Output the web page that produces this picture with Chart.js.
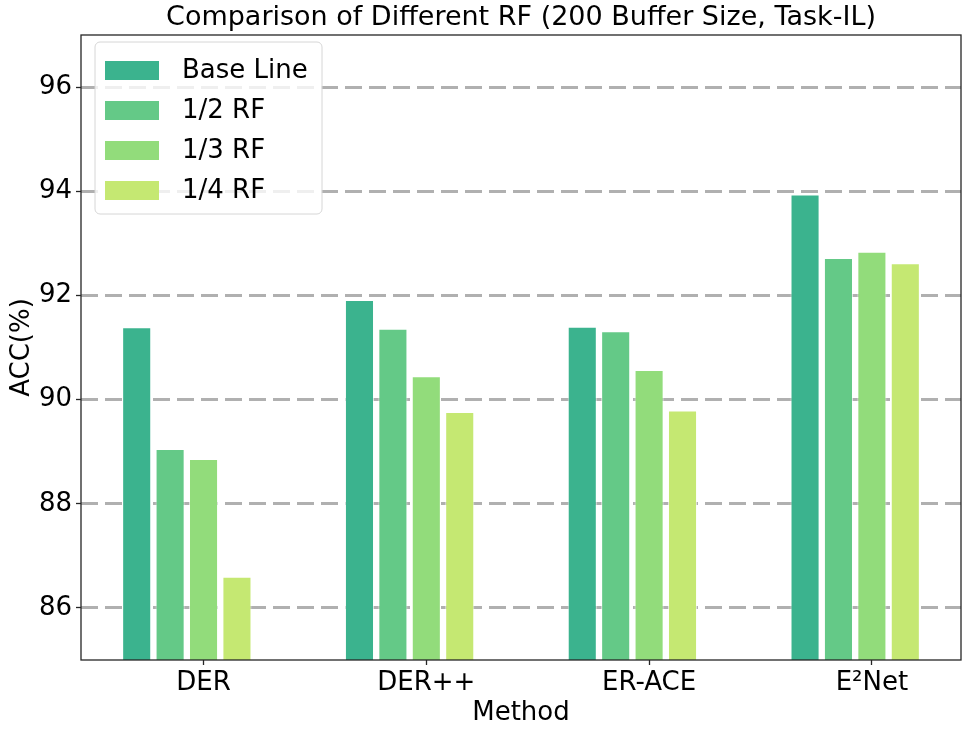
<!DOCTYPE html>
<html>
<head>
<meta charset="utf-8">
<script src="https://cdn.jsdelivr.net/npm/chart.js@4.4.1/dist/chart.umd.min.js"></script>
<style>
  html, body { margin: 0; padding: 0; background: #fff; }
  #wrap { width: 969px; height: 733px; }
</style>
</head>
<body>
<div id="wrap"><canvas id="rfChart" width="969" height="733"></canvas></div>
<script>
// values (ACC %)
const methods = ['DER', 'DER++', 'ER-ACE', 'E²Net'];
const seriesNames = ['Base Line', '1/2 RF', '1/3 RF', '1/4 RF'];
const baseLine = [91.39, 91.91, 91.40, 93.94];
const halfRF = [89.05, 91.36, 91.31, 92.72];
const thirdRF = [88.86, 90.45, 90.57, 92.84];
const quarterRF = [86.60, 89.76, 89.79, 92.62];
const yTicks = [86, 88, 90, 92, 94, 96];

const titleText = 'Comparison of Different RF (200 Buffer Size, Task-IL)';
const colors = ['#3bb38e', '#64c987', '#92dc7b', '#c5e872'];
const FONT = "'DejaVu Sans', sans-serif";

function toPoints(vals) {
    return vals.map((v, i) => ({ x: i, y: v }));
}

const allSeries = [baseLine, halfRF, thirdRF, quarterRF];
const datasets = allSeries.map((vals, k) => ({
    label: seriesNames[k],
    data: toPoints(vals),
    backgroundColor: colors[k],
    borderColor: 'rgba(255,255,255,0.65)',
    borderWidth: 1
}));
// empty slot so the group sits like the original (tick under the 3rd bar)
datasets.push({ label: '', data: methods.map((m, i) => ({ x: i, y: null })), backgroundColor: 'rgba(0,0,0,0)' });

const frameAndLegend = {
    id: 'frameAndLegend',
    afterDraw(chart) {
        const ctx = chart.ctx;
        const a = chart.chartArea;
        ctx.save();
        ctx.strokeStyle = '#262626';
        ctx.lineWidth = 1.3;
        ctx.strokeRect(a.left, a.top, a.right - a.left, a.bottom - a.top);

        // title centred over the plot, like matplotlib
        ctx.fillStyle = '#000';
        ctx.font = '27px ' + FONT;
        ctx.textAlign = 'center';
        ctx.textBaseline = 'middle';
        ctx.fillText(titleText, (a.left + a.right) / 2, 18);

        // legend box, upper left
        const lx = 95, ly = 42, lw = 227, lh = 172;
        ctx.beginPath();
        ctx.roundRect(lx, ly, lw, lh, 5);
        ctx.fillStyle = 'rgba(255,255,255,0.8)';
        ctx.fill();
        ctx.strokeStyle = '#d6d6d6';
        ctx.lineWidth = 1;
        ctx.stroke();
        ctx.font = '26px ' + FONT;
        ctx.textBaseline = 'middle';
        ctx.textAlign = 'left';
        seriesNames.forEach((name, k) => {
            const cy = 70.5 + k * 40;
            ctx.fillStyle = colors[k];
            ctx.fillRect(105, cy - 9.5, 54, 19);
            ctx.fillStyle = '#000';
            ctx.fillText(name, 182, cy + 1);
        });
        ctx.restore();
    }
};

new Chart(document.getElementById('rfChart'), {
    type: 'bar',
    data: { datasets: datasets },
    options: {
        responsive: false,
        animation: false,
        events: [],
        layout: { padding: { left: 0, right: 8, top: 35, bottom: 0 } },
        datasets: { bar: { categoryPercentage: 0.75, barPercentage: 0.87 } },
        plugins: {
            legend: { display: false },
            tooltip: { enabled: false },
            title: { display: false }
        },
        scales: {
            x: {
                type: 'linear',
                min: -0.55,
                max: 3.40,
                offset: false,
                afterBuildTicks: axis => { axis.ticks = methods.map((m, i) => ({ value: i })); },
                afterFit: axis => { axis.height = 73; },
                ticks: {
                    color: '#000',
                    padding: 3,
                    maxRotation: 0,
                    font: { family: FONT, size: 26, lineHeight: 1.2 },
                    callback: v => methods[v]
                },
                grid: { offset: false, drawOnChartArea: false, drawTicks: true, tickLength: 5, color: '#262626', tickColor: '#262626', tickWidth: 1.3 },
                border: { display: false },
                title: {
                    display: true,
                    text: 'Method',
                    color: '#000',
                    font: { family: FONT, size: 26, lineHeight: 1.2 },
                    padding: { top: 0, bottom: 4 }
                }
            },
            y: {
                min: 85,
                max: 97,
                afterBuildTicks: axis => { axis.ticks = yTicks.map(v => ({ value: v })); },
                afterFit: axis => { axis.width = 81; },
                ticks: {
                    color: '#000',
                    padding: 4,
                    font: { family: FONT, size: 26, lineHeight: 1.2 }
                },
                grid: {
                    color: '#b0b0b0',
                    lineWidth: 3,
                    tickLength: 5,
                    tickColor: '#262626',
                    tickWidth: 1.3,
                    tickBorderDash: []
                },
                border: { display: false, dash: [17, 7] },
                title: {
                    display: true,
                    text: 'ACC(%)',
                    color: '#000',
                    font: { family: FONT, size: 26, lineHeight: 1.2 },
                    padding: { top: 7, bottom: 0 }
                }
            }
        }
    },
    plugins: [frameAndLegend]
});
</script>
</body>
</html>
